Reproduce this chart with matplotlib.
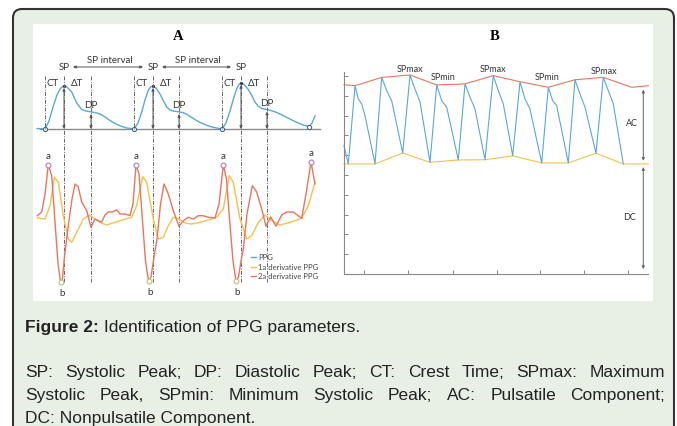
import matplotlib
matplotlib.use("Agg")
import matplotlib.pyplot as plt
from matplotlib.patches import FancyBboxPatch, Rectangle

# ---- panel A: PPG (pixel-like sample units) ----
ppg_x = [37, 45, 49, 53, 57, 60, 62.5, 64.3, 67, 71.7, 76.7, 81.7, 86, 90, 95, 100, 105, 110, 116, 121.7, 127, 134,
         138, 141.7, 145, 148, 150.5, 152.7, 156, 160, 163.5, 166.7, 170, 173, 178, 183, 188, 194, 200, 206, 212, 218, 222,
         226, 230, 234, 237, 239.3, 241, 244, 248, 251.5, 255, 258, 261.7, 266.7, 271, 276.7, 283, 290, 296, 303, 309, 312, 315]
ppg_y = [129.5, 130, 122, 108, 96, 90, 87.5, 87, 88, 93, 104, 110.5, 112, 112.7, 113.5, 115, 118, 121.5, 125, 127.5, 129, 130,
         124, 113, 101, 92, 88, 87, 89, 95, 102, 108, 111, 112, 112.7, 113.5, 116, 120, 123.5, 126, 128, 129.3, 130,
         124, 112, 98, 89, 85, 84, 85.5, 90, 96, 103, 107, 109.5, 110.5, 111.5, 113.5, 116.5, 120, 123, 126, 127.5, 124, 117]
feet_x = [45, 134, 222, 309]
feet_y = [130, 130, 130, 128]
sp_x = [64, 153, 241]
sp_y = [87, 87, 84]
dp_x = [91, 179, 267]
dp_y = [113, 113, 110.5]

# second derivative (red) and first derivative (orange)
d2_x = [37.3, 41.7, 45, 48.3, 51.7, 55, 58, 60.5, 62.5, 64, 68.3, 72, 75, 78.3, 81.7, 86.7, 91, 95, 98.3, 101.7, 105, 108.3,
        113.3, 116.7, 120, 125, 130, 133, 136, 139, 142, 145.5, 148.5, 151, 154, 157, 160.5, 164, 168.3, 173.3, 179, 183.3,
        188.3, 193.3, 198.3, 203.3, 208.3, 215, 219, 223.3, 226.5, 229.5, 233, 236, 238.5, 241, 243.3, 247, 252.3, 256.7,
        261.7, 266, 270.7, 276, 281.7, 286.7, 293.3, 301.7, 306, 311, 315]
d2_y = [216.7, 213, 195, 165.7, 176.7, 223, 265, 282.5, 280, 262, 226.7, 200, 185, 188, 203, 211.7, 228.3, 220, 221.7, 223,
        216, 213, 212.7, 210.7, 215, 215, 216.5, 205, 165.7, 175, 215, 262, 282, 278, 258, 240, 205, 185, 195, 211.7, 227.3,
        221.7, 218.3, 220, 216.7, 216.7, 218.3, 219, 205, 165.7, 180, 220, 262, 282, 278, 262, 250, 215, 186.7, 193, 210,
        227.3, 218, 227.3, 216, 213, 213, 219.3, 195, 163, 185]
d1_x = [37.3, 45, 50, 54.3, 58.3, 63.3, 68.3, 71.7, 76.7, 83.3, 89.3, 95, 100, 106.7, 115, 123.3, 131.7, 136.7, 142.7, 146.7,
        153.3, 158.3, 163.3, 168.3, 173.3, 179, 185, 191.7, 200, 208.3, 216.7, 223.3, 229.3, 233.3, 240, 246.7, 251.7, 258.3,
        265, 271.7, 280, 290, 301.7, 308.3, 315]
d1_y = [219, 220, 206.7, 178.3, 183.3, 216.7, 240, 243.3, 233.3, 220, 216, 220, 223.3, 226, 223.3, 220.7, 218.3, 206.7, 177.7,
        183.3, 220, 240, 238.3, 226.7, 218.3, 220, 224, 225, 223.3, 221, 218.3, 210, 176.7, 183.3, 220, 240, 236.7, 223.3,
        216, 221.7, 226, 223.3, 219.3, 206.7, 183.3]
a_x = [48.3, 136, 223.3, 311]
a_y = [166, 166, 166, 163]
b_x = [61, 149, 236]
b_y = [282.5, 282, 282]
legend_labels = ["PPG", "1a derivative PPG", "2a derivative PPG"]

# ---- panel B ----
env_top_t = [0, 11, 37.7, 66, 92.7, 121, 149.3, 176, 204.3, 231, 259.3, 287.7, 304.3]
env_top_v = [9.56, 9.51, 9.93, 10.05, 9.55, 9.60, 10.02, 9.71, 9.43, 9.81, 9.93, 9.43, 9.51]
env_bot_t = [0, 4.3, 31, 58.7, 86, 114.3, 141, 168.7, 197.7, 224.3, 252, 279.3, 304.3]
env_bot_v = [5.56, 5.56, 5.56, 6.11, 5.64, 5.76, 5.77, 5.97, 5.61, 5.61, 6.10, 5.56, 5.56]
b_ppg_t = [0, 4.3, 11, 14.3, 17.7, 21, 31, 37.7, 42.7, 47.7, 58.7, 66, 71, 76, 86, 92.7, 97.7, 102.7, 114.3, 121, 126, 131,
           141, 149.3, 154.3, 159.3, 168.7, 176, 181, 186, 197.7, 204.3, 208.7, 212.7, 224.3, 231, 236, 241, 252, 259.3,
           264.3, 269.3, 279.3]
b_ppg_v = [6.48, 5.56, 9.51, 8.84, 8.59, 8.0, 5.56, 9.93, 9.26, 8.75, 6.11, 10.05, 9.34, 8.69, 5.64, 9.55, 8.75, 8.43, 5.76,
           9.60, 8.94, 8.33, 5.77, 10.02, 9.26, 8.59, 5.97, 9.71, 8.84, 8.33, 5.61, 9.43, 8.75, 8.50, 5.61, 9.81, 9.09, 8.43,
           6.10, 9.93, 9.26, 8.59, 5.56]
b_xticks = [20.3, 64.3, 108.7, 152.7, 196, 240, 283.7]
b_yticks = list(range(11))
spmax_pos = [(66, 10.4), (149.3, 10.4), (260, 10.3)]
spmin_pos = [(99.3, 10.0), (203.3, 9.95)]

caption_title = "Figure 2:"
caption_sub = " Identification of PPG parameters."
caption_lines = ["SP: Systolic Peak; DP: Diastolic Peak; CT: Crest Time; SPmax: Maximum",
                 "Systolic Peak, SPmin: Minimum Systolic Peak; AC: Pulsatile Component;",
                 "DC: Nonpulsatile Component."]

BLUE = "#5aa8d8"
ORANGE = "#f4c04e"
RED = "#e8765e"
LBL = ["Lato", "DejaVu Sans"]

fig = plt.figure(figsize=(6.77, 4.27), dpi=100)
fig.patch.set_facecolor("white")
ax = fig.add_axes([0, 0, 1, 1])
ax.set_xlim(0, 677)
ax.set_ylim(427, 0)
ax.axis("off")

ax.add_patch(FancyBboxPatch((13, 10), 661, 440, boxstyle="round,pad=0,rounding_size=9",
                            facecolor="#e8f0e5", edgecolor="#333333", lw=1.5, zorder=0))
ax.add_patch(Rectangle((33, 25), 620, 277, facecolor="white", edgecolor="none", zorder=0.5))

# ---- panel A drawing ----
ax.text(178, 36, "A", family="Liberation Serif", weight="bold", fontsize=10.5, ha="center", va="center")
ax.plot([40, 320], [130, 130], color="#8a8a8a", lw=1)
ax.plot(ppg_x, ppg_y, color=BLUE, lw=1)
ax.plot(feet_x, feet_y, "o", ms=3, mfc="white", mec="#446688", mew=0.8)
ax.plot(sp_x, sp_y, ".", ms=2.5, color="#333333")

dd = dict(color="#666666", lw=0.7, ls=(0, (4, 1.5, 1, 1.5)))
for fx, sx, dx in zip(feet_x[:3], sp_x, dp_x):
    ax.plot([fx, fx], [77, 130], **dd)
    ax.plot([sx, sx], [77, 283], **dd)
    ax.plot([dx, dx], [77, 283], **dd)

arr = dict(arrowstyle="<|-|>", color="#555555", lw=0.7, mutation_scale=4, shrinkA=0, shrinkB=0)
for sx, sy, dx, dy in zip(sp_x, sp_y, dp_x, dp_y):
    ax.annotate("", xy=(sx, sy + 2), xytext=(sx, 130), arrowprops=arr)
    ax.annotate("", xy=(dx, dy + 2), xytext=(dx, 130), arrowprops=arr)
    ax.text(sx, 68, "SP", family=LBL, fontsize=7, ha="center", va="center", color="#333333")
    ax.text(sx - 11, 83, "CT", family=LBL, fontsize=7, ha="center", va="center", color="#333333")
    ax.text(sx + 13, 83, "\u0394T", family=LBL, fontsize=7, ha="center", va="center", color="#333333")
    ax.text(dx, dy - 7, "DP", family=LBL, fontsize=7, ha="center", va="center", color="#333333")

for x0, x1 in [(sp_x[0], sp_x[1]), (sp_x[1], sp_x[2])]:
    ax.annotate("", xy=(x1 - 10, 68), xytext=(x0 + 9, 68), arrowprops=arr)
    ax.text((x0 + x1) / 2 + 1, 60.5, "SP interval", family=LBL, fontsize=7, ha="center", va="center", color="#333333")

ax.plot(d1_x, d1_y, color=ORANGE, lw=1)
ax.plot(d2_x, d2_y, color=RED, lw=1)
ax.plot(a_x, a_y, "o", ms=3.5, mfc="white", mec="#b07cc8", mew=0.8)
ax.plot(b_x, b_y, "o", ms=3.5, mfc="white", mec="#b9c27a", mew=0.8)
for x, y in zip(a_x, a_y):
    ax.text(x, y - 9, "a", family=LBL, fontsize=7, ha="center", va="center", color="#333333")
for x, y in zip(b_x, b_y):
    ax.text(x + 1, y + 11, "b", family=LBL, fontsize=7, ha="center", va="center", color="#333333")

for i, (lab, c) in enumerate(zip(legend_labels, [BLUE, ORANGE, RED])):
    yy = 258 + i * 9.5
    ax.plot([251, 256], [yy, yy], color=c, lw=1)
    ax.text(258, yy, lab, family=LBL, fontsize=5.5, ha="left", va="center", color="#444444")

# ---- panel B drawing ----
axB = fig.add_axes([344 / 677, (427 - 275) / 427, 304 / 677, 202 / 427])
axB.set_facecolor("none")
axB.set_xlim(0, 304)
axB.set_ylim(0, 202 / 19.8)
for s in ["top", "right"]:
    axB.spines[s].set_visible(False)
for s in ["left", "bottom"]:
    axB.spines[s].set_color("#888888")
    axB.spines[s].set_linewidth(0.8)
axB.set_xticks(b_xticks)
axB.set_yticks(b_yticks)
axB.tick_params(direction="in", length=3, width=0.7, color="#888888", labelleft=False, labelbottom=False)
axB.plot(env_top_t, env_top_v, color=RED, lw=0.8, clip_on=False)
axB.plot(env_bot_t, env_bot_v, color=ORANGE, lw=0.8, clip_on=False)
axB.plot(b_ppg_t, b_ppg_v, color=BLUE, lw=0.8, clip_on=False)
for x, y in spmax_pos:
    axB.text(x, y, "SPmax", family=LBL, fontsize=6.5, ha="center", va="center", color="#333333")
for x, y in spmin_pos:
    axB.text(x, y, "SPmin", family=LBL, fontsize=6.5, ha="center", va="center", color="#333333")
arrB = dict(arrowstyle="<|-|>", color="#666666", lw=0.7, mutation_scale=4, shrinkA=0, shrinkB=0)
axB.annotate("", xy=(299.3, 9.31), xytext=(299.3, 5.72), arrowprops=arrB, annotation_clip=False)
axB.annotate("", xy=(299.3, 5.40), xytext=(299.3, 0.25), arrowprops=arrB, annotation_clip=False)
axB.text(288, 7.63, "AC", family=LBL, fontsize=6.5, ha="center", va="center", color="#333333")
axB.text(286, 2.88, "DC", family=LBL, fontsize=6.5, ha="center", va="center", color="#333333")
fig.text(495 / 677, 1 - 36 / 427, "B", family="Liberation Serif", weight="bold", fontsize=10.5, ha="center", va="center")

# ---- caption ----
cap = dict(family="Liberation Sans", fontsize=12.5, color="#222222", va="center")
t1 = ax.text(25, 328, caption_title, weight="bold", **cap)
r = fig.canvas.get_renderer()
w1 = t1.get_window_extent(r).width
ax.text(25 + w1, 328, caption_sub, **cap)


def justify(line, x0, x1, y):
    words = line.split()
    arts = [ax.text(x0, y, w, **cap) for w in words]
    widths = [a.get_window_extent(r).width for a in arts]
    gap = (x1 - x0 - sum(widths)) / (len(words) - 1)
    x = x0
    for a, w in zip(arts, widths):
        a.set_x(x)
        x += w + gap


justify(caption_lines[0], 25, 665, 373)
justify(caption_lines[1], 25, 665, 396)
ax.text(25, 419, caption_lines[2], **cap)

fig.savefig("out.png", dpi=100)
